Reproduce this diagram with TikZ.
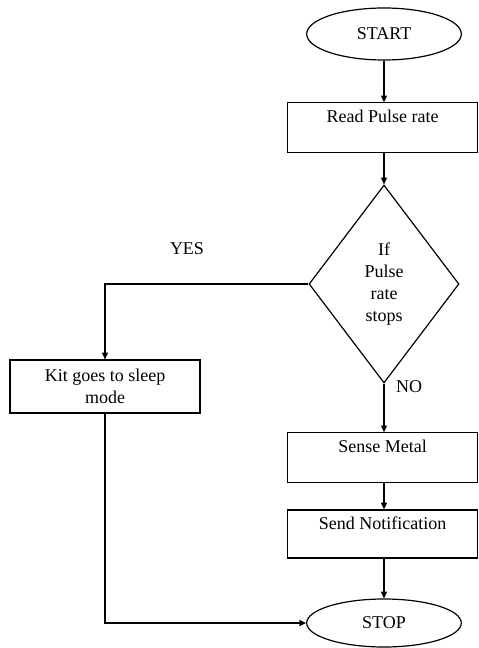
\documentclass[tikz,border=0pt]{standalone}
\usepackage{fontspec}
\setmainfont{Liberation Serif}
\usetikzlibrary{arrows.meta,positioning,shapes.geometric}
\tikzset{
  txt/.style={font=\fontsize{13.5}{16.3}\selectfont},
  term/.style={draw,ellipse,line width=0.9pt,txt,inner sep=0pt,
    minimum width=116pt,minimum height=39pt},
  proc/.style={draw,rectangle,line width=0.9pt,txt,inner sep=0pt,align=center,
    minimum width=142pt,minimum height=37pt},
  decide/.style={draw,diamond,line width=0.9pt,inner sep=0pt,align=center,
    txt,minimum width=112.5pt,minimum height=148.5pt},
  arr/.style={-{Triangle[length=5pt,width=4.5pt]},line width=0.9pt},
  lbl/.style={txt,inner sep=0pt},
}

\begin{document}
\begin{tikzpicture}[x=0.75pt,y=-0.75pt]
  \useasboundingbox (0,0) rectangle (478,648);
  % main column
  \node[term] (start) at (384,34) {START};
  \node[proc] (read) at (382.5,127.5) {Read Pulse rate\\~};
  \node[decide] (stops) at (384,284) {If\\Pulse\\rate\\stops};
  \node[proc] (sense) at (382.5,457.5) {Sense Metal\\~};
  \node[proc,minimum height=36pt] (send) at (382.5,534) {Send Notification\\~};
  \node[term,minimum height=36pt] (stop) at (384,623) {STOP};
  % side branch
  \node[proc,minimum width=142.5pt,minimum height=39.75pt] (kit) at (105,386.5)
    {Kit goes to sleep\\mode};
  \node[lbl] (yes) at (187,249) {YES};
  \node[lbl] (no) at (409,387) {NO};

  \draw[arr] (start.south) -- (start.south |- read.north);
  \draw[arr] (stops.north |- read.south) -- (stops.north);
  \draw[arr] (stops.west) -| (kit.north);
  \draw[arr] (stops.south) -- (stops.south |- sense.north);
  \draw[arr] (stops.south |- sense.south) -- (stops.south |- send.north);
  \draw[arr] (stops.south |- send.south) -- (stop.north);
  \draw[arr] (kit.south) |- (stop.west);
\end{tikzpicture}
\end{document}
